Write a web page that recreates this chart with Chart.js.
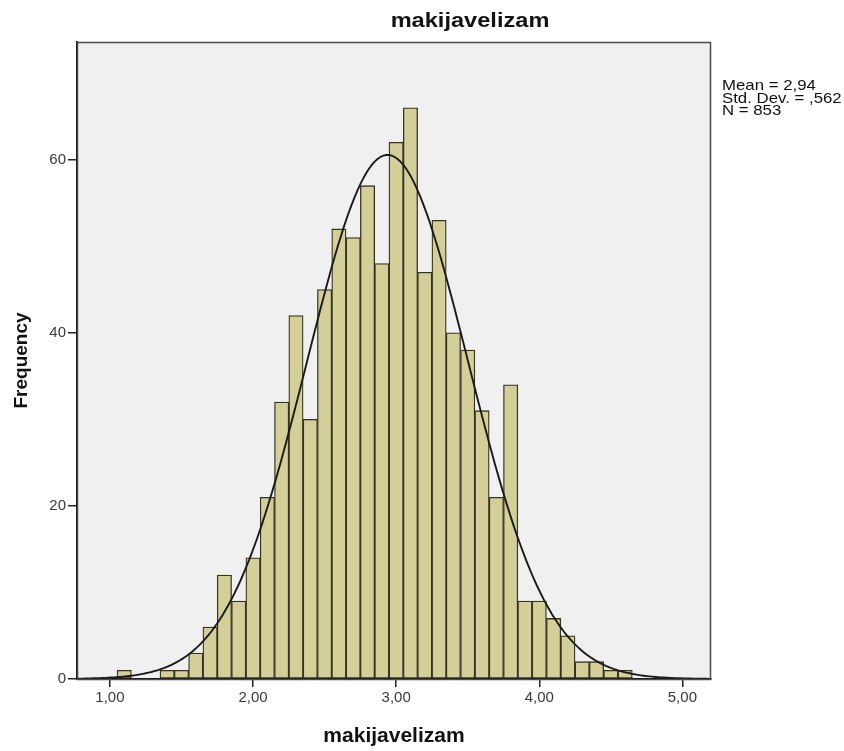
<!DOCTYPE html>
<html>
<head>
<meta charset="utf-8">
<title>makijavelizam</title>
<script src="https://cdn.jsdelivr.net/npm/chart.js@4.4.1/dist/chart.umd.min.js"></script>
<style>
  html, body { margin: 0; padding: 0; background: #fff; }
</style>
</head>
<body>
<canvas id="histChart" width="844" height="751"></canvas>
<script>
// histogram bins (centre of each 0,1 wide bin) and counts
const binCenters = [1.1, 1.2, 1.3, 1.4, 1.5, 1.6, 1.7, 1.8, 1.9, 2.0,
  2.1, 2.2, 2.3, 2.4, 2.5, 2.6, 2.7, 2.8, 2.9, 3.0,
  3.1, 3.2, 3.3, 3.4, 3.5, 3.6, 3.7, 3.8, 3.9, 4.0,
  4.1, 4.2, 4.3, 4.4, 4.5, 4.6];
const frequencies = [1, 0, 0, 1, 1, 3, 6, 12, 9, 14,
  21, 32, 42, 30, 45, 52, 51, 57, 48, 62,
  66, 47, 53, 40, 38, 31, 21, 34, 9, 9,
  7, 5, 2, 2, 1, 1];
const binWidth = 0.1;

const xTicks = [1, 2, 3, 4, 5];
const yTicks = [0, 20, 40, 60];

// stats printed next to the plot
const statMean = 2.94;
const statSd = 0.562;
const statN = 853;
const statLines = ["Mean = 2,94", "Std. Dev. = ,562", "N = 853"];

const FONT = "'Liberation Sans', Arial, sans-serif";

// normal curve overlay, same as SPSS: N * binWidth * density(mean, sd)
const curvePoints = [];
for (let x = 0.77; x <= 5.2; x += 0.02) {
  const z = (x - statMean) / statSd;
  const y = statN * binWidth * Math.exp(-0.5 * z * z) / (statSd * Math.sqrt(2 * Math.PI));
  curvePoints.push({ x: x, y: y });
}

// text in the source is a bit wider than Arial, so stretch it sideways
function wideText(ctx, text, x, y, sx) {
  ctx.save();
  ctx.translate(x, y);
  ctx.scale(sx, 1);
  ctx.fillText(text, 0, 0);
  ctx.restore();
}

// grey plot background, frame, title and stats text
const plotDecor = {
  id: "plotDecor",
  beforeDraw(chart) {
    const { ctx, chartArea: a } = chart;
    ctx.save();
    ctx.fillStyle = "#f0f0f0";
    ctx.fillRect(a.left, a.top, a.right - a.left, a.bottom - a.top);
    ctx.restore();
  },
  afterDraw(chart) {
    const { ctx, chartArea: a } = chart;
    ctx.save();
    ctx.strokeStyle = "#4a4a4a";
    ctx.lineWidth = 1.5;
    ctx.strokeRect(a.left + 0.5, a.top + 0.5, a.right - a.left - 1, a.bottom - a.top);

    ctx.fillStyle = "#111";
    ctx.font = "bold 20px " + FONT;
    ctx.textAlign = "center";
    ctx.textBaseline = "middle";
    wideText(ctx, "makijavelizam", 470, 21, 1.18);

    ctx.font = "15px " + FONT;
    ctx.textAlign = "left";
    statLines.forEach((t, i) => wideText(ctx, t, a.right + 11, 86 + i * 12.5, 1.12));
    ctx.restore();
  }
};

const ctx = document.getElementById("histChart");

new Chart(ctx, {
  type: "bar",
  data: {
    datasets: [{
      type: "line",
      data: curvePoints,
      borderColor: "#1a1a1a",
      borderWidth: 1.9,
      pointRadius: 0,
      tension: 0,
      fill: false,
      order: 0
    }, {
      type: "bar",
      data: binCenters.map((c, i) => ({ x: c, y: frequencies[i] })),
      backgroundColor: "#d4cf98",
      borderColor: "#34331e",
      borderWidth: 1.3,
      borderSkipped: false,
      barPercentage: 1,
      categoryPercentage: 1,
      grouped: false,
      order: 1
    }]
  },
  options: {
    responsive: false,
    animation: false,
    layout: { padding: { top: 42, left: 0, right: 133, bottom: 0 } },
    plugins: {
      legend: { display: false },
      tooltip: { enabled: false },
      title: { display: false }
    },
    scales: {
      x: {
        type: "linear",
        min: 0.77,
        max: 5.2,
        offset: false,
        afterBuildTicks: s => { s.ticks = xTicks.map(v => ({ value: v })); },
        afterFit: s => { s.height = 72; },
        ticks: {
          callback: v => v.toFixed(2).replace(".", ","),
          color: "#3a3a3a",
          font: { size: 15, family: FONT },
          padding: 2,
          maxRotation: 0
        },
        grid: { display: true, drawOnChartArea: false, drawTicks: true, tickLength: 8, color: "#222", lineWidth: 1.5, offset: false },
        border: { display: true, color: "#111", width: 1.8 },
        title: {
          display: true,
          text: "makijavelizam",
          color: "#111",
          font: { size: 21, weight: "bold", family: FONT },
          padding: { top: 0, bottom: 2 }
        }
      },
      y: {
        min: 0,
        max: 73.6,
        afterBuildTicks: s => { s.ticks = yTicks.map(v => ({ value: v })); },
        afterFit: s => { s.width = 77; },
        ticks: {
          color: "#3a3a3a",
          font: { size: 15, family: FONT },
          padding: 2
        },
        grid: { display: true, drawOnChartArea: false, drawTicks: true, tickLength: 9, color: "#222", lineWidth: 1.5 },
        border: { display: true, color: "#111", width: 1.8 },
        title: {
          display: true,
          text: "Frequency",
          color: "#111",
          font: { size: 19, weight: "bold", family: FONT },
          padding: { top: 10, bottom: 0 }
        }
      }
    }
  },
  plugins: [plotDecor]
});
</script>
</body>
</html>
